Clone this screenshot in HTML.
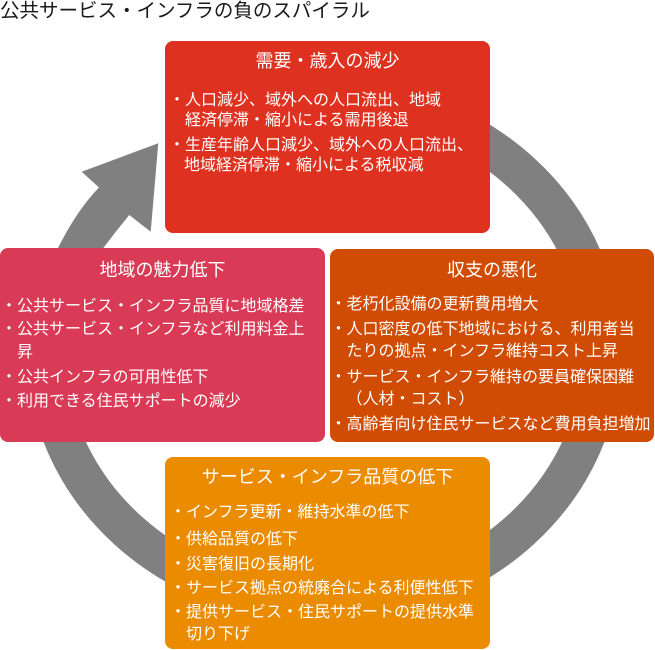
<!DOCTYPE html>
<html><head><meta charset="utf-8"><style>
html,body{margin:0;padding:0;background:#fff;}
body{width:655px;height:650px;position:relative;overflow:hidden;font-family:"Liberation Sans","Noto Sans CJK JP",sans-serif;}
.box{position:absolute;border-radius:8px;}
.t{position:absolute;white-space:nowrap;color:#fff;font-size:16px;line-height:20px;height:20px;margin-top:1px;}
.h{position:absolute;white-space:nowrap;color:#fff;font-size:18px;line-height:24px;text-align:center;margin-top:0.5px;}
svg{position:absolute;left:0;top:0;}
</style></head><body>
<div style="position:absolute;left:0;top:-1.3px;font-size:19.5px;line-height:24px;color:#1a1a1a;white-space:nowrap;">公共サービス・インフラの負のスパイラル</div>

<svg width="655" height="650" viewBox="0 0 655 650">
  <path d="M 324 98 A 278 253 0 1 1 46 351" fill="none" stroke="#808080" stroke-width="39"/>
  <path d="M 53 262 L 58 248 Q 77 210 99 187.5 L 81.7 171.7 L 158.3 143.3 L 150.7 231.7 L 129.3 215 Q 116 231 103.3 248 L 96 262 Z" fill="#808080"/>
</svg>

<!-- top red -->
<div class="box" style="left:165px;top:41px;width:325px;height:192px;background:#DF3120;"></div>
<div class="h" style="left:165px;width:325px;top:48.6px;">需要・歳入の減少</div>
<div class="t" style="left:169px;top:89.5px;">・人口減少、域外への人口流出、地域</div>
<div class="t" style="left:185px;top:109.5px;">経済停滞・縮小による需用後退</div>
<div class="t" style="left:169px;top:134.5px;">・生産年齢人口減少、域外への人口流出、</div>
<div class="t" style="left:184px;top:154.5px;">地域経済停滞・縮小による税収減</div>

<!-- left pink -->
<div class="box" style="left:0px;top:248px;width:325px;height:194px;background:#D93A56;"></div>
<div class="h" style="left:0px;width:325px;top:257px;">地域の魅力低下</div>
<div class="t" style="left:1px;top:295.5px;">・公共サービス・インフラ品質に地域格差</div>
<div class="t" style="left:1px;top:319px;">・公共サービス・インフラなど利用料金上</div>
<div class="t" style="left:17px;top:341.5px;">昇</div>
<div class="t" style="left:1px;top:367px;">・公共インフラの可用性低下</div>
<div class="t" style="left:1px;top:390.5px;">・利用できる住民サポートの減少</div>

<!-- right dark orange -->
<div class="box" style="left:330px;top:249px;width:324px;height:193px;background:#D04B03;"></div>
<div class="h" style="left:330px;width:324px;top:257.5px;">収支の悪化</div>
<div class="t" style="left:330.5px;top:294px;">・老朽化設備の更新費用増大</div>
<div class="t" style="left:330.5px;top:319px;">・人口密度の低下地域における、利用者当</div>
<div class="t" style="left:346.5px;top:340.5px;">たりの拠点・インフラ維持コスト上昇</div>
<div class="t" style="left:330.5px;top:367px;">・サービス・インフラ維持の要員確保困難</div>
<div class="t" style="left:346.5px;top:389px;">（人材・コスト）</div>
<div class="t" style="left:330.5px;top:414px;">・高齢者向け住民サービスなど費用負担増加</div>

<!-- bottom orange -->
<div class="box" style="left:165px;top:457px;width:325px;height:192px;background:#EA8B00;"></div>
<div class="h" style="left:165px;width:325px;top:464.5px;">サービス・インフラ品質の低下</div>
<div class="t" style="left:170px;top:502px;">・インフラ更新・維持水準の低下</div>
<div class="t" style="left:170px;top:528.5px;">・供給品質の低下</div>
<div class="t" style="left:170px;top:553.5px;">・災害復旧の長期化</div>
<div class="t" style="left:170px;top:577.5px;">・サービス拠点の統廃合による利便性低下</div>
<div class="t" style="left:170px;top:602px;">・提供サービス・住民サポートの提供水準</div>
<div class="t" style="left:186px;top:624px;">切り下げ</div>
</body></html>
